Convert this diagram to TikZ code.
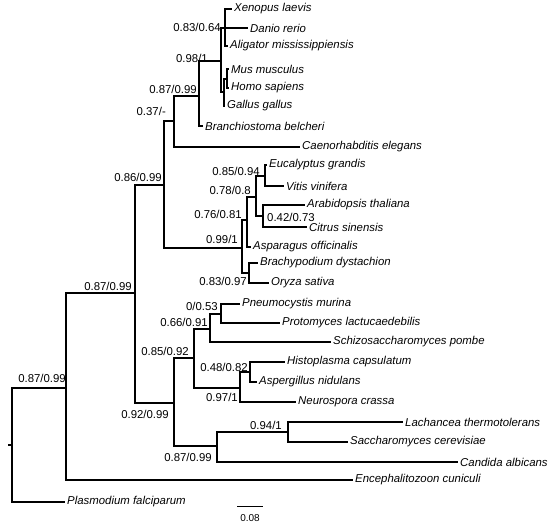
\documentclass[tikz,border=0pt]{standalone}
\usepackage{fontspec}
\setmainfont{Liberation Sans}
\begin{document}
\begin{tikzpicture}[x=1pt,y=-1pt,
  br/.style={line width=2.6pt, line join=miter},
  taxon/.style={anchor=west, inner sep=2pt, font=\fontsize{11.4}{13}\selectfont\itshape},
  supp/.style={anchor=east, inner sep=0pt, font=\fontsize{11.4}{13}\selectfont},
  scalelab/.style={inner sep=0pt, font=\fontsize{10}{12}\selectfont}]
\useasboundingbox (0,0) rectangle (550,524);
% internal nodes
\coordinate (R0) at (12,445);
\coordinate (stem) at (8,445);
\coordinate (A) at (66,388);
\coordinate (B) at (135,293);
\coordinate (C) at (164,185);
\coordinate (D) at (174,121);
\coordinate (E) at (199,96);
\coordinate (F) at (221,61);
\coordinate (G) at (225,28);
\coordinate (H) at (224,92);
\coordinate (I) at (227,79);
\coordinate (J) at (242,248);
\coordinate (K) at (247,220);
\coordinate (M) at (256,197);
\coordinate (N) at (265,176);
\coordinate (O) at (263,216);
\coordinate (L) at (249,273);
\coordinate (V) at (174,403);
\coordinate (Rr) at (194,358);
\coordinate (Q) at (210,329);
\coordinate (P) at (221,314);
\coordinate (S) at (240,388);
\coordinate (T) at (250,372);
\coordinate (W) at (217,446);
\coordinate (X) at (288,432);
% tips
\coordinate (t-pla) at (65,502);
\coordinate (t-enc) at (353,480);
\coordinate (t-cae) at (300,147);
\coordinate (t-bra) at (203,126);
\coordinate (t-xen) at (232,9);
\coordinate (t-dan) at (248,28);
\coordinate (t-ali) at (228,46);
\coordinate (t-mus) at (229,69);
\coordinate (t-hom) at (229,88);
\coordinate (t-gal) at (225,106);
\coordinate (t-asp) at (251,247);
\coordinate (t-euc) at (267,165);
\coordinate (t-vit) at (284,186);
\coordinate (t-ara) at (305,205);
\coordinate (t-cit) at (307,227);
\coordinate (t-brp) at (258,263);
\coordinate (t-ory) at (269,283);
\coordinate (t-sch) at (331,342);
\coordinate (t-pne) at (240,304);
\coordinate (t-pro) at (280,323);
\coordinate (t-neu) at (296,402);
\coordinate (t-his) at (285,362);
\coordinate (t-asg) at (257,382);
\coordinate (t-can) at (458,462);
\coordinate (t-lac) at (403,422);
\coordinate (t-sac) at (348,442);
% branches
\draw[br] (stem) -- (R0);
\draw[br] (R0) |- (A);
\draw[br] (R0) |- (t-pla);
\draw[br] (A) |- (B);
\draw[br] (A) |- (t-enc);
\draw[br] (B) |- (C);
\draw[br] (B) |- (V);
\draw[br] (C) |- (D);
\draw[br] (C) |- (J);
\draw[br] (D) |- (E);
\draw[br] (D) |- (t-cae);
\draw[br] (E) |- (F);
\draw[br] (E) |- (t-bra);
\draw[br] (F) |- (G);
\draw[br] (F) |- (H);
\draw[br] (G) |- (t-xen);
\draw[br] (G) |- (t-dan);
\draw[br] (G) |- (t-ali);
\draw[br] (H) |- (I);
\draw[br] (H) |- (t-gal);
\draw[br] (I) |- (t-mus);
\draw[br] (I) |- (t-hom);
\draw[br] (J) |- (K);
\draw[br] (J) |- (L);
\draw[br] (K) |- (M);
\draw[br] (K) |- (t-asp);
\draw[br] (M) |- (N);
\draw[br] (M) |- (O);
\draw[br] (N) |- (t-euc);
\draw[br] (N) |- (t-vit);
\draw[br] (O) |- (t-ara);
\draw[br] (O) |- (t-cit);
\draw[br] (L) |- (t-brp);
\draw[br] (L) |- (t-ory);
\draw[br] (V) |- (Rr);
\draw[br] (V) |- (W);
\draw[br] (Rr) |- (Q);
\draw[br] (Rr) |- (S);
\draw[br] (Q) |- (P);
\draw[br] (Q) |- (t-sch);
\draw[br] (P) |- (t-pne);
\draw[br] (P) |- (t-pro);
\draw[br] (S) |- (T);
\draw[br] (S) |- (t-neu);
\draw[br] (T) |- (t-his);
\draw[br] (T) |- (t-asg);
\draw[br] (W) |- (X);
\draw[br] (W) |- (t-can);
\draw[br] (X) |- (t-lac);
\draw[br] (X) |- (t-sac);
% taxon labels
\node[taxon] (n-pla) at (t-pla) {Plasmodium falciparum};
\node[taxon] (n-enc) at (t-enc) {Encephalitozoon cuniculi};
\node[taxon] (n-cae) at (t-cae) {Caenorhabditis elegans};
\node[taxon] (n-bra) at (t-bra) {Branchiostoma belcheri};
\node[taxon] (n-xen) at (t-xen) {Xenopus laevis};
\node[taxon] (n-dan) at (t-dan) {Danio rerio};
\node[taxon] (n-ali) at (t-ali) {Aligator mississippiensis};
\node[taxon] (n-mus) at (t-mus) {Mus musculus};
\node[taxon] (n-hom) at (t-hom) {Homo sapiens};
\node[taxon] (n-gal) at (t-gal) {Gallus gallus};
\node[taxon] (n-asp) at (t-asp) {Asparagus officinalis};
\node[taxon] (n-euc) at (t-euc) {Eucalyptus grandis};
\node[taxon] (n-vit) at (t-vit) {Vitis vinifera};
\node[taxon] (n-ara) at (t-ara) {Arabidopsis thaliana};
\node[taxon] (n-cit) at (t-cit) {Citrus sinensis};
\node[taxon] (n-brp) at (t-brp) {Brachypodium dystachion};
\node[taxon] (n-ory) at (t-ory) {Oryza sativa};
\node[taxon] (n-sch) at (t-sch) {Schizosaccharomyces pombe};
\node[taxon] (n-pne) at (t-pne) {Pneumocystis murina};
\node[taxon] (n-pro) at (t-pro) {Protomyces lactucaedebilis};
\node[taxon] (n-neu) at (t-neu) {Neurospora crassa};
\node[taxon] (n-his) at (t-his) {Histoplasma capsulatum};
\node[taxon] (n-asg) at (t-asg) {Aspergillus nidulans};
\node[taxon] (n-can) at (t-can) {Candida albicans};
\node[taxon] (n-lac) at (t-lac) {Lachancea thermotolerans};
\node[taxon] (n-sac) at (t-sac) {Saccharomyces cerevisiae};
% support values
\node[supp] (s-A) at (66,378) {0.87/0.99};
\node[supp] (s-B) at (132,286) {0.87/0.99};
\node[supp] (s-C) at (162,177) {0.86/0.99};
\node[supp] (s-D) at (166,111) {0.37/-};
\node[supp] (s-E) at (197,89) {0.87/0.99};
\node[supp] (s-F) at (208,58) {0.98/1};
\node[supp] (s-G) at (221,27) {0.83/0.64};
\node[supp] (s-N) at (260,171) {0.85/0.94};
\node[supp] (s-M) at (251,190) {0.78/0.8};
\node[supp] (s-K) at (242,214) {0.76/0.81};
\node[supp,anchor=west] (s-O) at (267,217) {0.42/0.73};
\node[supp] (s-J) at (238,239) {0.99/1};
\node[supp] (s-L) at (247,281) {0.83/0.97};
\node[supp] (s-P) at (218,306) {0/0.53};
\node[supp] (s-Q) at (208,322) {0.66/0.91};
\node[supp] (s-R) at (189,351) {0.85/0.92};
\node[supp] (s-T) at (248,367) {0.48/0.82};
\node[supp] (s-S) at (238,397) {0.97/1};
\node[supp] (s-V) at (169,414) {0.92/0.99};
\node[supp] (s-W) at (212,457) {0.87/0.99};
\node[supp] (s-X) at (282,425) {0.94/1};
% scale bar
\coordinate (sb1) at (237,506);
\coordinate (sb2) at (263,506);
\draw[line width=0.8pt] (sb1) -- (sb2);
\node[scalelab] (sbl) at (250,518) {0.08};
\end{tikzpicture}
\end{document}
